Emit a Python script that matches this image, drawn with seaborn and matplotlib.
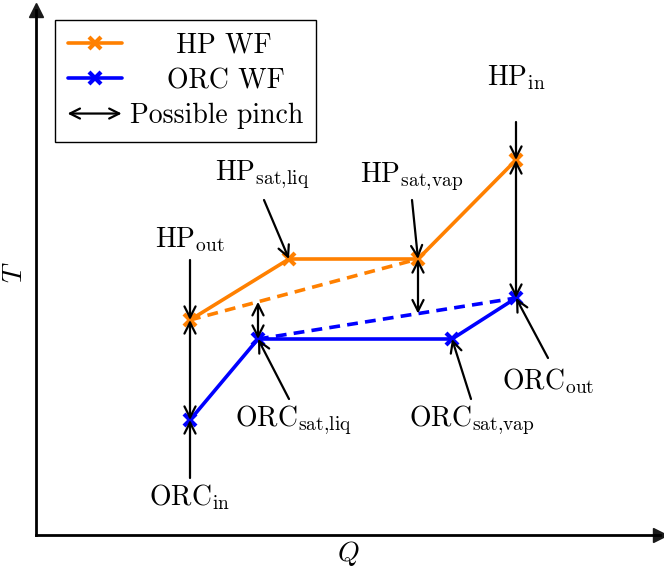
import numpy as np
import pandas as pd
import matplotlib
matplotlib.use("Agg")
import matplotlib.pyplot as plt
import seaborn as sns
from matplotlib.patches import FancyArrowPatch
from matplotlib.legend_handler import HandlerBase
from matplotlib.lines import Line2D

# T-Q diagram (schematic, arbitrary units)
hp_q = [154, 253, 382, 480]
hp_t = [215, 276, 276, 375]
orc_q = [154, 222, 416, 480]
orc_t = [115, 196, 196, 237]

hp_names = [r"HP$_{\rm out}$", r"HP$_{\rm sat{,}liq}$", r"HP$_{\rm sat{,}vap}$", r"HP$_{\rm in}$"]
orc_names = [r"ORC$_{\rm in}$", r"ORC$_{\rm sat{,}liq}$", r"ORC$_{\rm sat{,}vap}$", r"ORC$_{\rm out}$"]

# label text position and arrow tail for each state point
hp_label_pos = [(154, 295), (226, 360), (376, 358), (480, 457)]
hp_arrow_tail = [(154, 275), (228, 335), (376, 335), (480, 413)]
orc_label_pos = [(154, 38), (257, 115), (436, 115), (512, 154)]
orc_arrow_tail = [(154, 57), (253, 136), (435, 136), (512, 177)]

ORANGE = "#ff8000"
BLUE = "#0000ff"

sns.set_theme(style="white")
plt.rcParams["font.family"] = ["cmr10"]
plt.rcParams["mathtext.fontset"] = "cm"
plt.rcParams["axes.unicode_minus"] = False
plt.rcParams["axes.formatter.use_mathtext"] = True
plt.rcParams["text.color"] = "black"
plt.rcParams["axes.labelcolor"] = "black"

fig = plt.figure(figsize=(6.64, 5.69), dpi=100)
W, H = 664, 569
ax = fig.add_axes([36 / W, (H - 535) / H, 624 / W, 525 / H])
ax.set_xlim(0, 624)
ax.set_ylim(0, 525)

hp = pd.DataFrame({"Q": hp_q, "T": hp_t})
orc = pd.DataFrame({"Q": orc_q, "T": orc_t})

LW = 2.6
# dashed straight-line bounds
ax.plot([hp_q[0], hp_q[2]], [hp_t[0], hp_t[2]], color=ORANGE, lw=LW, ls=(0, (3, 2)), zorder=2)
ax.plot([orc_q[1], orc_q[3]], [orc_t[1], orc_t[3]], color=BLUE, lw=LW, ls=(0, (3, 2)), zorder=2)

sns.lineplot(data=hp, x="Q", y="T", ax=ax, color=ORANGE, lw=LW, marker="x",
             markersize=8, markeredgewidth=3, markeredgecolor=ORANGE,
             sort=False, estimator=None, zorder=3)
sns.lineplot(data=orc, x="Q", y="T", ax=ax, color=BLUE, lw=LW, marker="x",
             markersize=8, markeredgewidth=3, markeredgecolor=BLUE,
             sort=False, estimator=None, zorder=3)

# possible pinch locations (double arrows)
pinch = [
    (hp_q[0], hp_t[0], orc_t[0]),
    (orc_q[1], orc_t[1], np.interp(orc_q[1], [hp_q[0], hp_q[2]], [hp_t[0], hp_t[2]])),
    (hp_q[2], hp_t[2], np.interp(hp_q[2], [orc_q[1], orc_q[3]], [orc_t[1], orc_t[3]])),
    (hp_q[3], hp_t[3], orc_t[3]),
]
arrow_kw = dict(arrowstyle="<->", color="black", lw=1.6, mutation_scale=20,
                shrinkA=0, shrinkB=0)
for q, t1, t2 in pinch:
    ax.annotate("", xy=(q, t2), xytext=(q, t1), arrowprops=arrow_kw, zorder=4)

# state point labels
pt_kw = dict(arrowstyle="->", color="black", lw=1.6, mutation_scale=20,
             shrinkA=0, shrinkB=0)
fs = 20
for name, q, t, lp, tail in zip(hp_names, hp_q, hp_t, hp_label_pos, hp_arrow_tail):
    ax.annotate("", xy=(q, t), xytext=tail, arrowprops=pt_kw, zorder=4)
    ax.text(lp[0], lp[1], name, ha="center", va="center", fontsize=fs)
for name, q, t, lp, tail in zip(orc_names, orc_q, orc_t, orc_label_pos, orc_arrow_tail):
    ax.annotate("", xy=(q, t), xytext=tail, arrowprops=pt_kw, zorder=4)
    ax.text(lp[0], lp[1], name, ha="center", va="center", fontsize=fs)

# axes with arrow heads
for s in ["top", "right"]:
    ax.spines[s].set_visible(False)
for s in ["left", "bottom"]:
    ax.spines[s].set_linewidth(2.0)
    ax.spines[s].set_color("black")
ax.plot(1, 0, ">k", ms=10, transform=ax.transAxes, clip_on=False)
ax.plot(0, 1, "^k", ms=10, transform=ax.transAxes, clip_on=False)
ax.set_xticks([])
ax.set_yticks([])
ax.set_xlabel(r"$Q$", fontsize=fs, labelpad=3)
ax.set_ylabel(r"$T$", fontsize=fs, labelpad=6)


class ArrowHandler(HandlerBase):
    def create_artists(self, legend, orig_handle, xdescent, ydescent,
                       width, height, fontsize, trans):
        y = height / 2 - ydescent
        a = FancyArrowPatch((-xdescent, y), (-xdescent + width, y),
                            arrowstyle="<->", mutation_scale=18, lw=1.6,
                            color="black", shrinkA=0, shrinkB=0, transform=trans)
        return [a]


h_hp = Line2D([], [], color=ORANGE, lw=LW, marker="x", ms=8, mew=3)
h_orc = Line2D([], [], color=BLUE, lw=LW, marker="x", ms=8, mew=3)
h_pinch = FancyArrowPatch((0, 0), (1, 0))
leg = ax.legend([h_hp, h_orc, h_pinch],
                ["     HP WF", "    ORC WF", "Possible pinch"],
                handler_map={FancyArrowPatch: ArrowHandler()},
                loc="upper left", bbox_to_anchor=((55 - 36) / 624, (535 - 20) / 525),
                borderaxespad=0, fontsize=fs, handlelength=1.95, frameon=True,
                fancybox=False, edgecolor="black", framealpha=1,
                labelspacing=0.32, handletextpad=0.3, borderpad=0.45)
leg.get_frame().set_linewidth(1.0)

fig.savefig("out.png", dpi=100)
